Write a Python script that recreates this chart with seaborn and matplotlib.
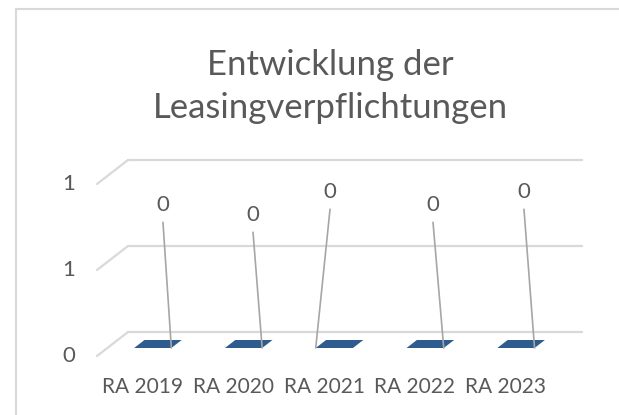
import matplotlib
matplotlib.use('Agg')
import matplotlib.pyplot as plt
from matplotlib.patches import Polygon, Rectangle
import seaborn as sns

categories = ['RA 2019', 'RA 2020', 'RA 2021', 'RA 2022', 'RA 2023']
values = [0, 0, 0, 0, 0]
value_labels = ['0', '0', '0', '0', '0']
y_ticks = [0, 0.5, 1]
y_tick_labels = ['0', '1', '1']

# hand-placed data label positions (offset from category centre, height)
label_dx = [-0.115, -0.123, -0.275, -0.141, -0.139]
label_y = [0.738, 0.680, 0.814, 0.738, 0.814]
leader_corner = ['right', 'right', 'left', 'right', 'right']

text_col = '#595959'
grid_col = '#D9D9D9'
bar_col = '#2E5C8E'
lead_col = '#A6A6A6'

sns.set_theme(style='white')
plt.rcParams['font.family'] = ['Lato', 'DejaVu Sans']

fig = plt.figure(figsize=(6.19, 4.15), dpi=100)
fig.patch.set_facecolor('white')
ax = fig.add_axes([97 / 619, 59 / 415, 485 / 619, 196 / 415])

df = {'cat': categories, 'val': values}
sns.barplot(x='cat', y='val', data=df, ax=ax, color=bar_col, linewidth=0)

# oblique "3D" depth offset (front plane relative to back wall)
DX, DY = -0.3414, -0.1395
ax.set_xlim(-0.5 + DX, len(categories) - 0.5)
ax.set_ylim(DY, 1)
ax.axis('off')

# back wall gridlines + floor/side diagonals
for v, lab in zip(y_ticks, y_tick_labels):
    ax.plot([-0.5, len(categories) - 0.5], [v, v], color=grid_col, lw=1.6, clip_on=False)
    ax.plot([-0.5 + DX, -0.5], [v + DY, v], color=grid_col, lw=1.6, clip_on=False)
    ax.annotate(lab, (-0.5 + DX, v + DY), xytext=(-22, 0),
                textcoords='offset pixels', ha='right', va='center',
                fontsize=16, color=text_col)

# flat (zero height) bars drawn as top faces
w = 0.41
d0, d1 = 2 / 3, 1 / 3
for i, v in enumerate(values):
    fl = (i - w / 2 + DX * d0, v + DY * d0)
    fr = (i + w / 2 + DX * d0, v + DY * d0)
    br = (i + w / 2 + DX * d1, v + DY * d1)
    bl = (i - w / 2 + DX * d1, v + DY * d1)
    ax.add_patch(Polygon([fl, fr, br, bl], closed=True, facecolor=bar_col,
                         edgecolor='none', zorder=3))
    end = fr if leader_corner[i] == 'right' else fl
    lx, ly = i + label_dx[i], label_y[i]
    ax.plot([lx, end[0]], [ly - 0.1, end[1]], color=lead_col, lw=1.2, zorder=4)
    ax.text(lx, ly, value_labels[i], ha='center', va='center',
            fontsize=16, color=text_col)
    ax.annotate(categories[i], (i + DX, DY), xytext=(0, -31),
                textcoords='offset pixels', ha='center', va='center',
                fontsize=15, color=text_col)

# chart area border
fig.add_artist(Rectangle((16 / 619, -0.1), 1.0, 1.1 - 9.5 / 415,
                         transform=fig.transFigure, fill=False,
                         edgecolor=grid_col, lw=1.5))

fig.text(330 / 619, 1 - 75 / 415, 'Entwicklung der', ha='center', va='baseline',
         fontsize=25, color=text_col)
fig.text(330 / 619, 1 - 118 / 415, 'Leasingverpflichtungen', ha='center', va='baseline',
         fontsize=25, color=text_col)

fig.savefig('out.png', dpi=100)
